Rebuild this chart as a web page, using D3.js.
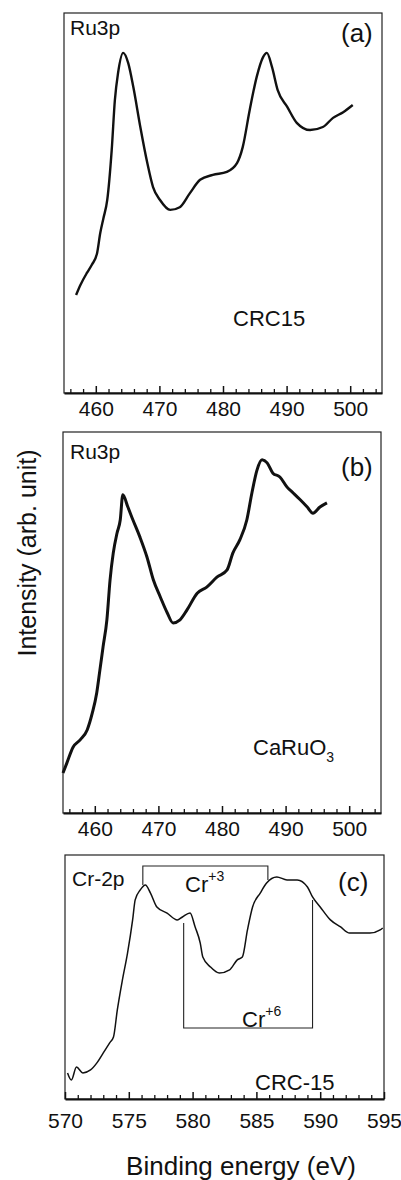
<!DOCTYPE html>
<html>
<head>
<meta charset="utf-8">
<script src="https://cdn.jsdelivr.net/npm/d3@7"></script>
<style>
  body { margin: 0; background: #fff; }
  text { font-family: "Liberation Sans", Arial, Helvetica, sans-serif; fill: #111; }
</style>
</head>
<body>
<div id="vis"></div>
<script>
// frame of the whole figure
const FRAME_WIDTH = 401;
const FRAME_HEIGHT = 1180;

// x tick labels
const RU_TICKS = [460, 470, 480, 490, 500];
const CR_TICKS = [570, 575, 580, 585, 590, 595];

// (a) Ru3p, CRC15  (binding energy eV, intensity arb. 0-100 of the panel)
const A_ENERGY = [456.9, 457.6, 458.6, 459.4, 460.2, 460.7, 461.2, 461.8, 462.5, 463.0, 463.5, 464.3, 465.1,
                  465.9, 467.0, 468.1, 469.0, 470.1, 471.7, 473.2, 474.8, 476.4, 478.4,
                  480.6, 482.2, 483.1, 484.2, 485.3, 486.3, 486.9, 487.7, 488.6, 490.1,
                  491.6, 493.7, 495.7, 497.3, 498.9, 500.4];
const A_INTENSITY = [25.8, 28.5, 31.6, 33.8, 36.8, 42.1, 46.0, 50.8, 63.9, 77.1, 84.2, 89.5, 86.8,
                     80.5, 70.0, 60.5, 54.2, 50.8, 48.2, 48.9, 52.6, 56.1, 57.4,
                     58.2, 60.5, 64.7, 74.5, 83.2, 88.4, 89.5, 85.8, 79.7, 75.3,
                     71.1, 69.2, 70.0, 72.4, 73.9, 75.8];

// (b) Ru3p, CaRuO3
const B_ENERGY = [455.0, 455.6, 456.6, 457.7, 458.8, 459.6, 460.3, 460.8, 461.3, 461.9,
                  462.4, 462.9, 463.5, 464.0, 464.4, 465.2, 466.0, 467.1, 468.2, 469.2,
                  470.3, 471.4, 472.3, 473.4, 474.5, 476.1, 477.6, 479.2, 480.8, 481.7,
                  482.8, 483.9, 484.7, 485.5, 486.3, 487.1, 488.0, 489.1, 490.2, 491.2,
                  492.3, 493.4, 494.3, 495.4, 496.5];
const B_INTENSITY = [10.5, 13.1, 17.3, 19.2, 21.8, 26.2, 31.5, 37.5, 43.6, 50.7,
                     61.2, 68.2, 73.5, 76.9, 83.5, 80.3, 76.9, 72.4, 67.2, 61.2,
                     56.7, 52.5, 49.9, 50.7, 53.3, 57.7, 59.3, 61.9, 63.8, 68.2,
                     71.7, 76.9, 84.0, 90.0, 92.7, 91.9, 89.2, 88.2, 85.6, 84.0,
                     82.2, 80.3, 78.7, 80.3, 81.4];

// (c) Cr-2p, CRC-15
const C_ENERGY = [570.2, 570.5, 570.9, 571.4, 572.0, 572.5, 573.0, 573.5, 573.8, 574.1,
                  574.5, 574.9, 575.3, 575.5, 575.9, 576.3, 576.7, 577.2, 578.0, 578.8,
                  579.2, 579.8, 580.2, 580.6, 580.8, 581.4, 582.1, 582.9, 583.5, 583.9,
                  584.3, 584.7, 585.3, 585.8, 586.6, 587.4, 588.2, 589.0, 589.4, 590.0,
                  590.8, 591.6, 592.3, 593.1, 593.9, 594.7, 594.9];
const C_INTENSITY = [10.7, 7.8, 13.1, 10.7, 11.9, 14.8, 18.9, 23.0, 25.4, 36.5,
                     48.8, 59.8, 73.4, 81.6, 85.7, 87.7, 84.4, 78.7, 76.2, 73.4,
                     74.6, 76.2, 70.5, 63.9, 58.2, 54.1, 51.6, 52.9, 57.0, 58.2,
                     69.3, 78.7, 84.4, 88.5, 91.0, 89.8, 89.8, 86.9, 82.8, 78.7,
                     73.4, 70.5, 68.0, 68.0, 68.0, 69.3, 70.1];

// Cr+3 / Cr+6 brackets in (c), as [energy, intensity] corners
const CR3_BOX = [[576.1, 87.7], [576.1, 95.5], [585.9, 95.5], [585.9, 89.8]];
const CR6_BOX = [[579.3, 72.1], [579.3, 29.1], [589.4, 29.1], [589.4, 81.6]];

const zip = (xs, ys) => xs.map((x, i) => ({x: x, y: ys[i]}));

const PANELS = [
  {left: 64, right: 382, top: 13, bottom: 393, domain: [455, 505],
   ticks: RU_TICKS, minor: d3.range(456, 505, 2), pad: 8, width: 2.4,
   data: zip(A_ENERGY, A_INTENSITY)},
  {left: 63, right: 381, top: 432, bottom: 813, domain: [455, 505],
   ticks: RU_TICKS, minor: d3.range(456, 505, 2), pad: 8, width: 3,
   data: zip(B_ENERGY, B_INTENSITY)},
  {left: 65, right: 384, top: 855, bottom: 1099, domain: [570, 595],
   ticks: CR_TICKS, minor: d3.range(571, 595, 1), pad: 14, width: 1.5,
   data: zip(C_ENERGY, C_INTENSITY)}
];

const FRAME1 = d3.select("#vis")
                 .append("svg")
                   .attr("width", FRAME_WIDTH)
                   .attr("height", FRAME_HEIGHT);

PANELS.forEach((p) => {
  p.X = d3.scaleLinear().domain(p.domain).range([p.left, p.right]);
  p.Y = d3.scaleLinear().domain([0, 100]).range([p.bottom, p.top]);

  // frame
  FRAME1.append("rect")
      .attr("x", p.left).attr("y", p.top)
      .attr("width", p.right - p.left).attr("height", p.bottom - p.top)
      .attr("fill", "none").attr("stroke", "#222").attr("stroke-width", 1.2);

  // minor ticks
  FRAME1.append("g")
      .attr("transform", "translate(0," + p.bottom + ")")
      .call(d3.axisBottom(p.X).tickValues(p.minor.filter(v => !p.ticks.includes(v)))
              .tickSize(-4).tickSizeOuter(0).tickFormat(""))
      .call(g => g.select(".domain").remove())
      .selectAll("line").attr("stroke", "#111").attr("stroke-width", 1.3);

  // major ticks + labels
  const ax = FRAME1.append("g")
      .attr("transform", "translate(0," + p.bottom + ")")
      .call(d3.axisBottom(p.X).tickValues(p.ticks)
              .tickSize(-7).tickSizeOuter(0).tickPadding(p.pad));
  ax.select(".domain").attr("stroke", "#111").attr("stroke-width", 2);
  ax.selectAll("line").attr("stroke", "#111").attr("stroke-width", 1.5);
  ax.selectAll("text")
      .attr("font-size", "21px")
      .attr("font-family", "Liberation Sans, Arial, sans-serif")
      .attr("fill", "#111");

  // spectrum
  FRAME1.append("path")
      .datum(p.data)
      .attr("fill", "none")
      .attr("stroke", "#111")
      .attr("stroke-width", p.width)
      .attr("stroke-linejoin", "round")
      .attr("d", d3.line().curve(d3.curveMonotoneX).x(d => p.X(d.x)).y(d => p.Y(d.y)));
});

// brackets in (c)
const PC = PANELS[2];
[CR3_BOX, CR6_BOX].forEach((box) => {
  FRAME1.append("path")
      .datum(box)
      .attr("fill", "none")
      .attr("stroke", "#222")
      .attr("stroke-width", 1.1)
      .attr("d", d3.line().x(d => PC.X(d[0])).y(d => PC.Y(d[1])));
});

// labels
const label = (x, y, size, str) =>
  FRAME1.append("text").attr("x", x).attr("y", y).attr("font-size", size + "px").text(str);

label(70, 35, 21, "Ru3p");
label(341, 42, 26, "(a)");
label(233, 326, 22, "CRC15");

label(70, 459, 21, "Ru3p");
label(341, 476, 26, "(b)");
const caru = label(253, 755, 22, "CaRuO");
caru.append("tspan").attr("dy", 7).attr("font-size", "14px").text("3");

label(72, 886, 21, "Cr-2p");
label(338, 891, 26, "(c)");
const cr3 = label(185, 892, 22, "Cr");
cr3.append("tspan").attr("dy", -11).attr("font-size", "14px").text("+3");
const cr6 = label(242, 1027, 22, "Cr");
cr6.append("tspan").attr("dy", -11).attr("font-size", "14px").text("+6");
label(255, 1090, 22, "CRC-15");

// axis titles
FRAME1.append("text")
    .attr("transform", "translate(36,553) rotate(-90)")
    .attr("text-anchor", "middle")
    .attr("font-size", "25px")
    .text("Intensity (arb. unit)");

FRAME1.append("text")
    .attr("x", 241).attr("y", 1175)
    .attr("text-anchor", "middle")
    .attr("font-size", "26px")
    .text("Binding energy (eV)");
</script>
</body>
</html>
